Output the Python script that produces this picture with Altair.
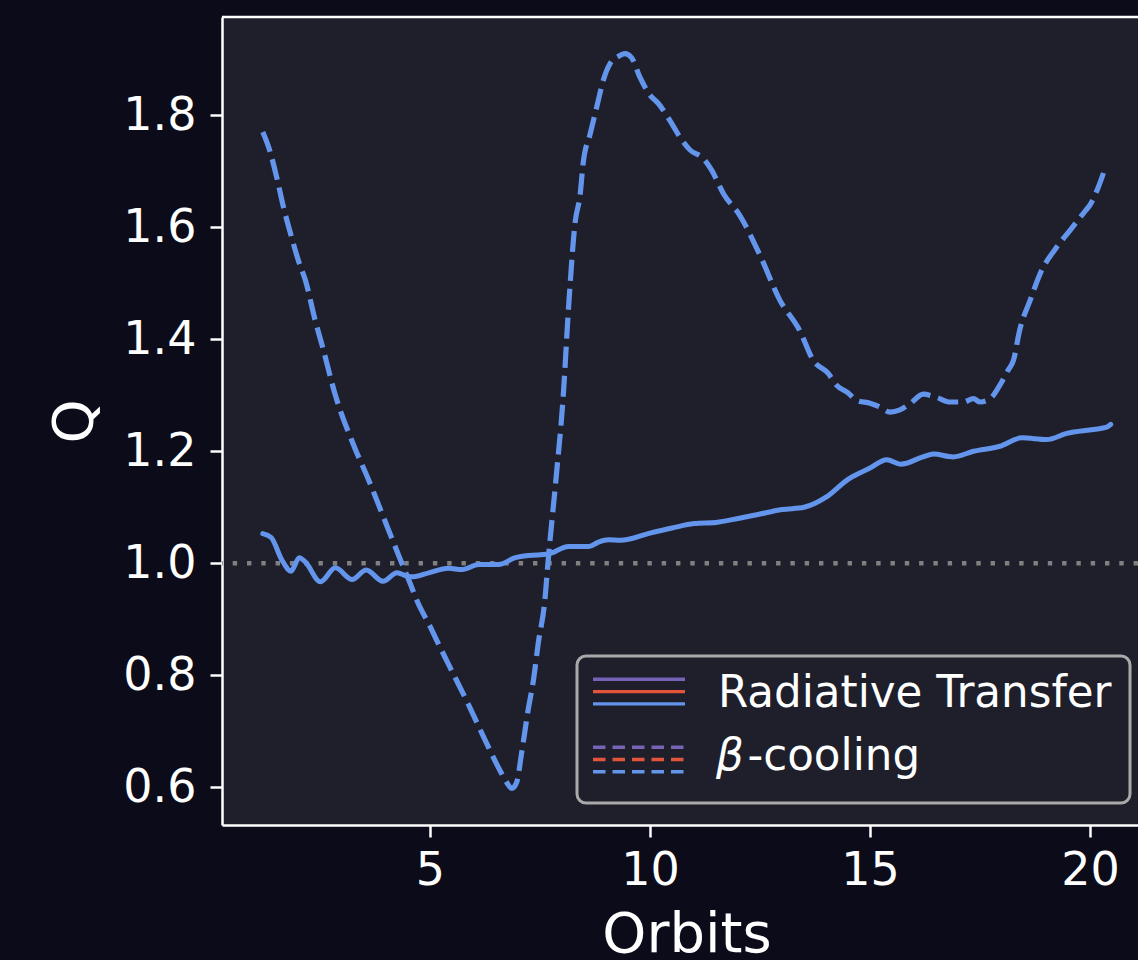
import altair as alt
import pandas as pd

# Toomre Q over time for the two cooling prescriptions
rt_orbits = [1.20, 1.39, 1.64, 1.84, 2.03, 2.17, 2.51, 2.85, 3.23, 3.55, 3.93, 4.25, 4.48,
             4.63, 4.97, 5.42, 5.73, 6.11, 6.56, 6.94, 7.24, 7.66, 8.15, 8.61, 8.83, 9.06,
             9.33, 10.0, 10.5, 11.0, 11.5, 12.0, 12.5, 13.0, 13.5, 14.0, 14.5, 15.0, 15.38,
             15.7, 16.2, 16.44, 16.89, 17.35, 17.95, 18.45, 19.02, 19.47, 20.08, 20.38, 20.47]
rt_q = [1.053, 1.046, 1.005, 0.986, 1.010, 1.002, 0.967, 0.992, 0.971, 0.988, 0.968, 0.983,
        0.977, 0.976, 0.983, 0.991, 0.989, 0.998, 0.998, 1.010, 1.014, 1.016, 1.030, 1.030,
        1.038, 1.042, 1.041, 1.054, 1.063, 1.071, 1.073, 1.080, 1.088, 1.096, 1.100, 1.118,
        1.150, 1.170, 1.185, 1.177, 1.190, 1.195, 1.190, 1.200, 1.209, 1.224, 1.221, 1.232,
        1.239, 1.243, 1.248]

beta_orbits = [1.20, 1.37, 1.52, 1.67, 1.83, 2.02, 2.17, 2.39, 2.55, 2.85, 3.27, 3.61, 4.06,
               4.36, 4.55, 4.70, 5.01, 5.15, 5.45, 5.83, 6.29, 6.59, 6.74, 6.86, 6.97, 7.08,
               7.23, 7.35, 7.46, 7.61, 7.68, 7.86, 8.02, 8.16, 8.30, 8.41, 8.48, 8.64, 8.79,
               8.94, 9.09, 9.28, 9.43, 9.58, 9.77, 10.0, 10.19, 10.45, 10.68, 10.91, 11.21,
               11.40, 11.67, 12.05, 12.5, 12.95, 13.4, 13.71, 14.05, 14.24, 14.47, 14.73,
               15.0, 15.23, 15.45, 15.68, 15.91, 16.21, 16.52, 16.82, 17.12, 17.35, 17.5,
               17.73, 17.95, 18.14, 18.26, 18.4, 18.64, 18.9, 19.2, 19.55, 19.9, 20.0,
               20.19, 20.34]
beta_q = [1.770, 1.734, 1.688, 1.636, 1.589, 1.538, 1.505, 1.434, 1.389, 1.300, 1.210, 1.148,
          1.059, 1.000, 0.964, 0.934, 0.886, 0.863, 0.815, 0.755, 0.678, 0.630, 0.609, 0.598,
          0.609, 0.660, 0.738, 0.791, 0.857, 0.934, 1.000, 1.148, 1.290, 1.470, 1.610, 1.657,
          1.714, 1.767, 1.815, 1.863, 1.892, 1.905, 1.910, 1.903, 1.868, 1.836, 1.821, 1.791,
          1.761, 1.738, 1.723, 1.702, 1.660, 1.620, 1.550, 1.470, 1.416, 1.3625, 1.339,
          1.318, 1.306, 1.290, 1.286, 1.279, 1.270, 1.274, 1.285, 1.302, 1.296, 1.288, 1.288,
          1.294, 1.288, 1.294, 1.318, 1.345, 1.3625, 1.416, 1.470, 1.523, 1.560, 1.595,
          1.630, 1.640, 1.672, 1.705]

x_ticks = [5, 10, 15, 20]
y_ticks = [0.6, 0.8, 1.0, 1.2, 1.4, 1.6, 1.8]
legend_labels = ["Radiative Transfer", "β", "-cooling"]
legend_colors = ["#7763b5", "#e3553b", "#6495ed"]

BLUE = "#6495ed"
FONT = "DejaVu Sans"
W, H = 916, 808

rt = pd.DataFrame({"Orbits": rt_orbits, "Q": rt_q})
beta = pd.DataFrame({"Orbits": beta_orbits, "Q": beta_q})
one = pd.DataFrame({"k": [0]})

xscale = alt.Scale(domain=[0.273, 21.09], nice=False, zero=False)
yscale = alt.Scale(domain=[0.5327, 1.9755], nice=False, zero=False)

x_enc = alt.X("Orbits:Q", scale=xscale,
              axis=alt.Axis(values=x_ticks, title="Orbits", labelPadding=11,
                            titlePadding=14, titleX=464.5, titleAlign="center"))
y_enc = alt.Y("Q:Q", scale=yscale,
              axis=alt.Axis(values=y_ticks, title="Q", format=".1f",
                            labelPadding=14, titlePadding=19))

ref = alt.Chart(one).mark_rule(color="#808080", strokeWidth=4.4,
                               strokeDash=[4.4, 9.9]).encode(y=alt.datum(1.0))

rt_line = alt.Chart(rt).mark_line(color=BLUE, strokeWidth=5, interpolate="monotone",
                                  strokeJoin="round", strokeCap="round").encode(x=x_enc, y=y_enc)
beta_line = alt.Chart(beta).mark_line(color=BLUE, strokeWidth=5.2, interpolate="monotone",
                                      strokeDash=[21, 8]).encode(x=x_enc, y=y_enc)

top_spine = alt.Chart(one).mark_rule(color="white", strokeWidth=2.5).encode(
    x=alt.value(0), x2=alt.value(W), y=alt.value(0))

# legend box drawn inside the axes
legend_box = alt.Chart(one).mark_rect(fill="#1e1f2b", stroke="#a9a9a9", strokeWidth=3,
                                      cornerRadius=9).encode(
    x=alt.value(355), x2=alt.value(908), y=alt.value(639), y2=alt.value(786))

legend_layers = [legend_box]
for i, c in enumerate(legend_colors):
    legend_layers.append(alt.Chart(one).mark_rule(color=c, strokeWidth=3.4).encode(
        x=alt.value(371), x2=alt.value(463), y=alt.value(662.3 + 12.3 * i)))
    legend_layers.append(alt.Chart(one).mark_rule(color=c, strokeWidth=3.4,
                                                  strokeDash=[12.5, 7]).encode(
        x=alt.value(371), x2=alt.value(462), y=alt.value(730.3 + 12.2 * i)))

legend_layers.append(alt.Chart(one).mark_text(
    text=legend_labels[0], font=FONT, fontSize=43.6, color="white", align="left",
    baseline="alphabetic").encode(x=alt.value(496), y=alt.value(689.7)))
legend_layers.append(alt.Chart(one).mark_text(
    text=legend_labels[1], font=FONT, fontSize=43.6, fontStyle="italic", color="white",
    align="left", baseline="alphabetic").encode(x=alt.value(494), y=alt.value(753)))
legend_layers.append(alt.Chart(one).mark_text(
    text=legend_labels[2], font=FONT, fontSize=43.6, color="white", align="left",
    baseline="alphabetic").encode(x=alt.value(525.5), y=alt.value(753)))

chart = alt.layer(ref, rt_line, beta_line, top_spine, *legend_layers).properties(
    width=W, height=H,
    background="#0b0b19",
    padding={"left": 222, "top": 17, "right": 0, "bottom": 135},
    autosize=alt.AutoSizeParams(type="none"),
).configure_view(
    fill="#1e1f2b", stroke=None
).configure_axis(
    grid=False, domainColor="white", domainWidth=2.5, tickColor="white", tickWidth=2.5,
    tickSize=12, labelColor="white", labelFont=FONT, labelFontSize=46,
    titleColor="white", titleFont=FONT, titleFontSize=56, titleFontWeight="normal",
)

chart.save("out.html", embed_options={"renderer": "svg", "actions": False})
